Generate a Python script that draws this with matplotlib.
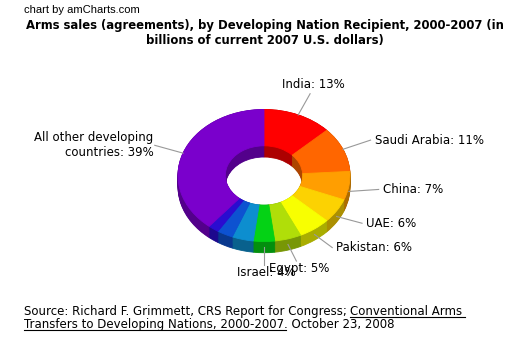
import matplotlib
matplotlib.use('Agg')
import matplotlib.pyplot as plt
import matplotlib.colors as mcolors
from matplotlib.lines import Line2D
import numpy as np

# share of arms sales agreements by recipient, 2000-2007 (%)
recipients = ['India', 'Saudi Arabia', 'China', 'UAE', 'Pakistan', 'Egypt', 'Israel',
              '', '', '', 'All other developing\ncountries']
shares = [13, 11, 7, 6, 6, 5, 4, 4, 3, 2, 39]
slice_colors = ['#FF0000', '#FF6600', '#FF9E01', '#FCD202', '#F8FF01', '#B0DE09',
                '#04D215', '#0D8ECF', '#0D52D1', '#2A0CD0', '#7A00CC']

title = ('Arms sales (agreements), by Developing Nation Recipient, 2000-2007 (in\n'
         'billions of current 2007 U.S. dollars)')
src_a = 'Source: Richard F. Grimmett, CRS Report for Congress;'
src_b = 'Conventional Arms'
src_c = 'Transfers to Developing Nations, 2000-2007'
src_d = '. October 23, 2008'

fig = plt.figure(figsize=(5.2, 3.51), dpi=100)
ax = fig.add_axes([0, 0, 1, 1])

depth = 0.17   # ring thickness (y units)
hole = 0.45    # inner radius of the donut
dark = [tuple(v * 0.68 for v in mcolors.to_rgb(c)) for c in slice_colors]

# side walls: darker copies of the ring stacked downwards
for d in np.linspace(-depth, 0, 14):
    wedges, _ = ax.pie(shares, colors=dark, startangle=90, counterclock=False,
                       center=(0, d), wedgeprops=dict(width=1 - hole, linewidth=0.6))
    for w in wedges:
        w.set_edgecolor(w.get_facecolor())

# top face
wedges, _ = ax.pie(shares, colors=slice_colors, startangle=90, counterclock=False,
                   wedgeprops=dict(width=1 - hole, linewidth=0.6))
for w in wedges:
    w.set_edgecolor(w.get_facecolor())

# labels with leader lines
total = sum(shares)
start = np.cumsum([0] + shares[:-1])
for name, val, c in zip(recipients, shares, start):
    if not name:
        continue
    mid = np.deg2rad((c + val / 2) / total * 360)
    s, co = np.sin(mid), np.cos(mid)
    x0, y0 = s, co
    if co < 0:
        y0 -= depth / 2
    x1, y1 = 1.35 * s, 1.35 * co
    ax.plot([x0, x1], [y0, y1], color='#999999', lw=0.8)
    if abs(s) < 0.45:
        ha = 'center'
        va = 'bottom' if co > 0 else 'top'
        off = (2, 2) if co > 0 else (2, -1)
    else:
        ha = 'left' if s > 0 else 'right'
        va = 'center'
        off = (3, 0) if s > 0 else (-1, 0)
    ax.annotate(f'{name}: {val}%', (x1, y1), xytext=off, textcoords='offset points',
                ha=ha, va=va, fontsize=8.5)

# 1 x unit = 86 px, 1 y unit = 66 px, centre at (264, 175.5)
ax.set_aspect('auto')
ax.set_xlim(-264 / 86, 256 / 86)
ax.set_ylim(-175.5 / 66, 175.5 / 66)
ax.axis('off')

fig.text(24 / 520, 1 - 10 / 351, 'chart by amCharts.com', fontsize=8,
         family='Liberation Sans', va='center')
fig.text(0.509, 0.906, title, ha='center', va='center', fontsize=8.4,
         fontweight='bold', linespacing=1.2)

t1 = fig.text(24 / 520, 0.1026, src_a, fontsize=8.5, va='baseline')
t2 = ax.annotate(src_b, (1, 0), xycoords=t1, xytext=(2.6, 0),
                 textcoords='offset points', fontsize=8.5, va='bottom')
t3 = fig.text(24 / 520, 0.0655, src_c, fontsize=8.5, va='baseline')
t4 = ax.annotate(src_d, (1, 0), xycoords=t3, fontsize=8.5, va='bottom')

# underline the report title
fig.canvas.draw()
inv = fig.transFigure.inverted()
for t in (t2, t3):
    bb = t.get_window_extent()
    (xa, ya), (xb, _) = inv.transform([(bb.x0, bb.y0 + 1), (bb.x1 + 2, bb.y0 + 1)])
    fig.add_artist(Line2D([xa, xb], [ya, ya], color='black', lw=0.8))

fig.savefig('out.png', dpi=100)
